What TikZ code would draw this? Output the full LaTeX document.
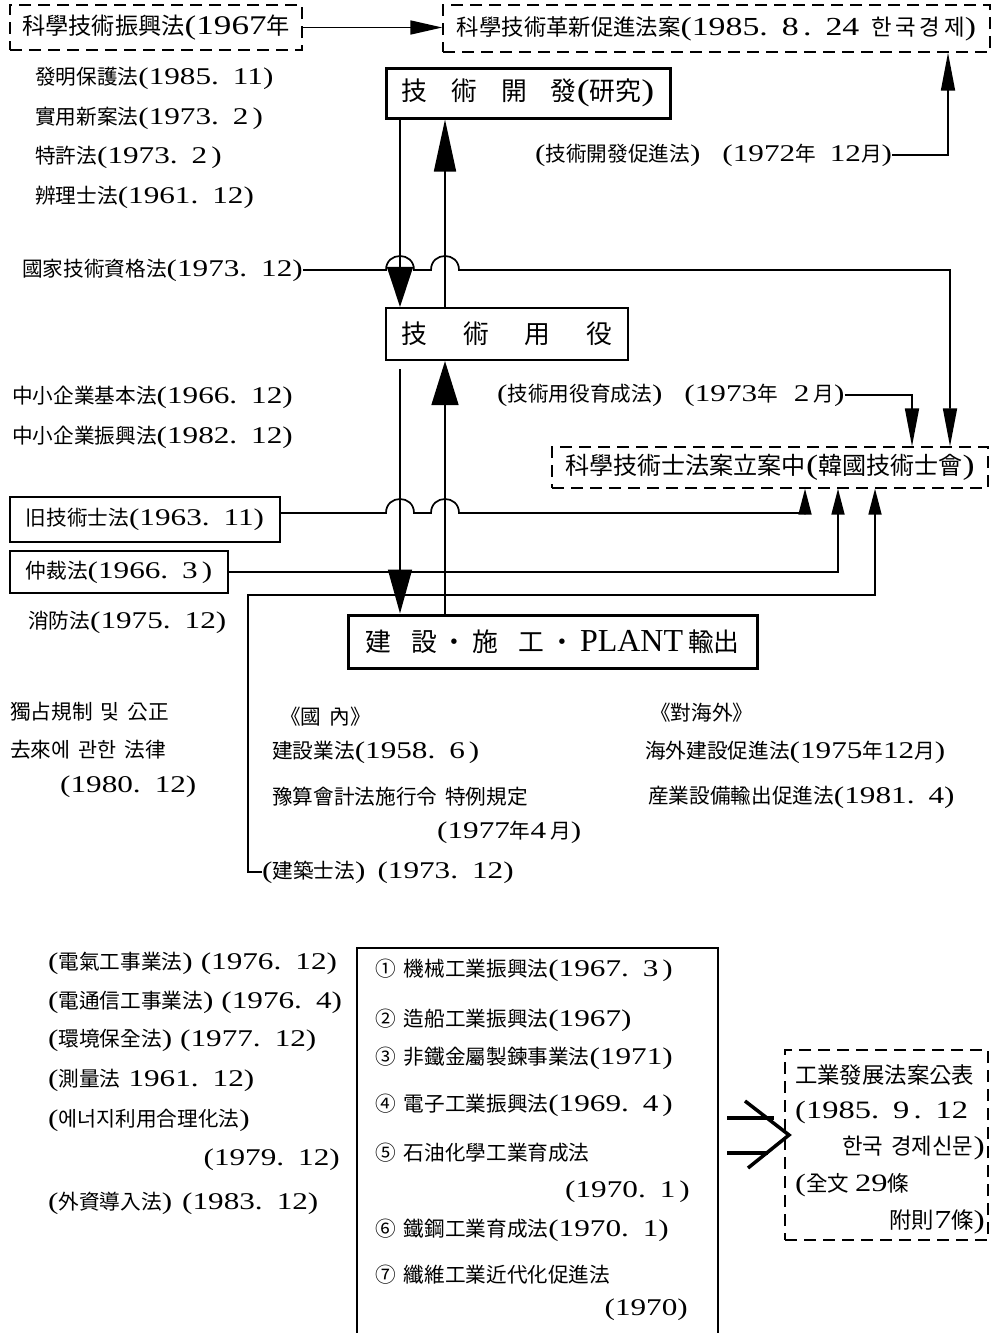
\documentclass[tikz,border=0pt]{standalone}
\usepackage{fontspec}
\setmainfont{Liberation Serif}[FakeStretch=1.3]
\newfontfamily\cjk{Noto Sans CJK KR}[Scale=0.86]
\newfontfamily\lat{Liberation Serif}
\usetikzlibrary{arrows.meta}
\newcommand\K[1]{{\cjk #1}}
\newcommand\gp{\hspace{14pt}}
\tikzset{
  lbl/.style={anchor=west, inner sep=0pt, font=\fontsize{24}{28}\selectfont},
  lble/.style={anchor=east, inner sep=0pt, font=\fontsize{24}{28}\selectfont},
  dbox/.style={draw, dash pattern=on 12pt off 7pt, line width=1.4pt, inner sep=0pt},
  sbox/.style={draw, line width=1.6pt, inner sep=0pt, font=\fontsize{24}{28}\selectfont},
  tbox/.style={draw, line width=3pt, inner sep=0pt, font=\fontsize{30}{34}\selectfont},
  conn/.style={line width=1.7pt},
  tipA/.style={-{Triangle[length=32pt,width=14pt]}},
  tipB/.style={-{Triangle[length=38pt,width=14pt]}},
  tipC/.style={-{Triangle[length=40pt,width=26pt]}},
  tipD/.style={-{Triangle[length=52pt,width=22pt]}},
  tipE/.style={-{Triangle[length=44pt,width=27pt]}},
  tipF/.style={-{Triangle[length=44pt,width=24pt]}},
  tipG/.style={-{Triangle[length=26pt,width=13pt]}}
}
\begin{document}
\begin{tikzpicture}[x=1pt,y=-1pt]
\useasboundingbox (0,0) rectangle (996,1333);
\fill[white] (0,0) rectangle (996,1333);

% ---------- boxes ----------
\node[dbox, minimum width=292pt, minimum height=45pt, font=\fontsize{27}{30}\selectfont] (A) at (156,27.5) {\K{科學技術振興法}(1967\K{年}};
\node[dbox, minimum width=547pt, minimum height=47pt, font=\fontsize{26}{30}\selectfont] (B) at (716.5,28.5) {\K{科學技術革新促進法案}(1985.\gp 8\,.\gp 24\hspace{12pt}\K{한\,국\,경\,제})};
\node[tbox, minimum width=284pt, minimum height=50pt] (C) at (528,93) {\K{技}\hspace{24pt}\K{術}\hspace{24pt}\K{開}\hspace{24pt}\K{發}(\K{研究})};
\node[sbox, line width=2.2pt, minimum width=242pt, minimum height=52pt, font=\fontsize{30}{34}\selectfont] (D) at (507,334) {\K{技}\hspace{36pt}\K{術}\hspace{36pt}\K{用}\hspace{36pt}\K{役}};
\node[dbox, minimum width=436pt, minimum height=41pt, font=\fontsize{28}{32}\selectfont] (E) at (770,467.5) {\K{科學技術士法案立案中}(\K{韓國技術士會})};
\node[sbox, minimum width=270pt, minimum height=45pt] (G) at (145,519.5) {\K{旧技術士法}(1963.\gp 11)};
\node[sbox, minimum width=218pt, minimum height=42pt] (H) at (119,572) {\K{仲裁法}(1966.\gp 3\,)};
\node[tbox, minimum width=409pt, minimum height=53pt] (F) at (552.5,641.5) {\K{建}\hspace{20pt}\K{設}\,\K{・}\,\K{施}\hspace{20pt}\K{工}\,\K{・}\,{\lat\fontsize{32}{34}\selectfont PLANT}\,\K{輸出}};
\node[draw, line width=1.6pt, minimum width=361pt, minimum height=400pt, inner sep=0pt] (I) at (537.5,1148) {};
\node[dbox, minimum width=203pt, minimum height=190pt] (J) at (886.5,1145) {};

% ---------- free texts ----------
\node[lbl] (L1) at (35,78) {\K{發明保護法}(1985.\gp 11)};
\node[lbl] (L2) at (35,118) {\K{實用新案法}(1973.\gp 2\,)};
\node[lbl] (L3) at (35,157) {\K{特許法}(1973.\gp 2\,)};
\node[lbl] (L4) at (35,197) {\K{辨理士法}(1961.\gp 12)};
\node[lbl] (T1) at (535,155) {(\K{技術開發促進法})\hspace{22pt}(1972\K{年}\hspace{14pt}12\K{月})};
\node[lbl] (N1) at (22,270) {\K{國家技術資格法}(1973.\gp 12)};
\node[lbl] (T2) at (497,395) {(\K{技術用役育成法})\hspace{22pt}(1973\K{年}\hspace{16pt}2\,\K{月})};
\node[lbl] (L5) at (12,397) {\K{中小企業基本法}(1966.\gp 12)};
\node[lbl] (L6) at (12,437) {\K{中小企業振興法}(1982.\gp 12)};
\node[lbl] (L7) at (28,622) {\K{消防法}(1975.\gp 12)};
\node[lbl] (L8) at (10,712) {\K{獨占規制\hspace{8pt}및\hspace{8pt}公正}};
\node[lbl] (L9) at (10,750) {\K{去來에\hspace{8pt}관한\hspace{8pt}法律}};
\node[lbl] (L10) at (60,787) {(1980.\gp 12)};

\node[lbl] (M1) at (280,717) {\K{《國\hspace{8pt}內》}};
\node[lbl] (M2) at (272,752) {\K{建設業法}(1958.\gp 6\,)};
\node[lbl] (M3) at (272,797) {\K{豫算會計法施行令\hspace{8pt}特例規定}};
\node[lbl] (M4) at (437,832) {(1977\K{年}4\,\K{月})};
\node[lbl] (T3) at (262,872) {(\K{建築士法})\hspace{12pt}(1973.\gp 12)};
\node[lbl] (O1) at (650,713) {\K{《對海外》}};
\node[lbl] (O2) at (645,752) {\K{海外建設促進法}(1975\K{年}12\K{月})};
\node[lbl] (O3) at (648,797) {\K{産業設備輸出促進法}(1981.\gp 4)};

\node[lbl] (B1) at (48,963) {(\K{電氣工事業法})\hspace{8pt}(1976.\gp 12)};
\node[lbl] (B2) at (48,1002) {(\K{電通信工事業法})\hspace{8pt}(1976.\gp 4)};
\node[lbl] (B3) at (48,1040) {(\K{環境保全法})\hspace{8pt}(1977.\gp 12)};
\node[lbl] (B4) at (48,1080) {(\K{測量法}\hspace{8pt}1961.\gp 12)};
\node[lbl] (B5) at (48,1120) {(\K{에너지利用合理化法})};
\node[lble] (B6) at (340,1160) {(1979.\gp 12)};
\node[lbl] (B7) at (48,1203) {(\K{外資導入法})\hspace{10pt}(1983.\gp 12)};

\node[lbl] (I1) at (375,970) {\K{①}\hspace{8pt}\K{機械工業振興法}(1967.\gp 3\,)};
\node[lbl] (I2) at (375,1020) {\K{②}\hspace{8pt}\K{造船工業振興法}(1967)};
\node[lbl] (I3) at (375,1058) {\K{③}\hspace{8pt}\K{非鐵金屬製鍊事業法}(1971)};
\node[lbl] (I4) at (375,1105) {\K{④}\hspace{8pt}\K{電子工業振興法}(1969.\gp 4\,)};
\node[lbl] (I5) at (375,1153) {\K{⑤}\hspace{8pt}\K{石油化學工業育成法}};
\node[lble] (I6) at (690,1192) {(1970.\gp 1\,)};
\node[lbl] (I7) at (375,1230) {\K{⑥}\hspace{8pt}\K{鐵鋼工業育成法}(1970.\gp 1)};
\node[lbl] (I8) at (375,1275) {\K{⑦}\hspace{8pt}\K{纖維工業近代化促進法}};
\node[lble] (I9) at (688,1310) {(1970)};

\node[lbl, font=\fontsize{26}{30}\selectfont] (J1) at (795,1075) {\K{工業發展法案公表}};
\node[lbl, font=\fontsize{25}{30}\selectfont] (J2) at (795,1112) {(1985.\gp 9\,.\gp 12};
\node[lble, font=\fontsize{26}{30}\selectfont] (J3) at (985,1148) {\K{한국\hspace{8pt}경제신문})};
\node[lbl, font=\fontsize{25}{30}\selectfont] (J4) at (795,1185) {(\K{全文}\hspace{6pt}29\K{條}};
\node[lble, font=\fontsize{26}{30}\selectfont] (J5) at (985,1222) {\K{附則}7\K{條})};

% ---------- reference coordinates ----------
\coordinate (vx1) at (400,0);
\coordinate (vx2) at (445,0);
\coordinate (k1) at (948,0);
\coordinate (k2) at (950,0);
\coordinate (k3) at (912,0);
\coordinate (k4) at (805,0);
\coordinate (k5) at (838,0);
\coordinate (k6) at (875,0);
\coordinate (c1) at (248,872);
\coordinate (c2) at (248,595);

% ---------- connectors ----------
\draw[conn, tipA] (A.east) -- (A.east -| B.west);
\draw[conn, tipB] (T1.east) -| (k1 |- B.south);
\draw[conn, tipC] (vx1 |- C.south) -- (vx1 |- D.north);
\draw[conn, tipD] (vx2 |- D.north) -- (vx2 |- C.south);
\draw[conn, tipF] ([yshift=-8pt]vx1 |- D.south) -- (vx1 |- F.north);
\draw[conn, tipE] (vx2 |- F.north) -- (vx2 |- D.south);

\draw[conn, tipB] (N1.east) -- (386,270) .. controls (386,251.3) and (414,251.3) .. (414,270)
   -- (431,270) .. controls (431,251.3) and (459,251.3) .. (459,270) -- (950,270) -- (k2 |- E.north);
\draw[conn, tipB] (T2.east) -| (k3 |- E.north);

\draw[conn, tipG] ([yshift=6.5pt]G.east) -- (386,513) .. controls (386,494.3) and (414,494.3) .. (414,513)
   -- (431,513) .. controls (431,494.3) and (459,494.3) .. (459,513) -- (805,513) -- (k4 |- E.south);
\draw[conn, tipG] (H.east) -| (k5 |- E.south);
\draw[conn, tipG] (T3.west) -- (c1) -- (c2) -- (875,595) -- (k6 |- E.south);

% double arrow between I and J
\draw[line width=4pt] (727,1118) -- (774,1118);
\draw[line width=4pt] (727,1153) -- (768,1153);
\draw[line width=3.5pt, line join=miter] (745,1101) -- (789,1135) -- (748,1168);
\end{tikzpicture}
\end{document}
